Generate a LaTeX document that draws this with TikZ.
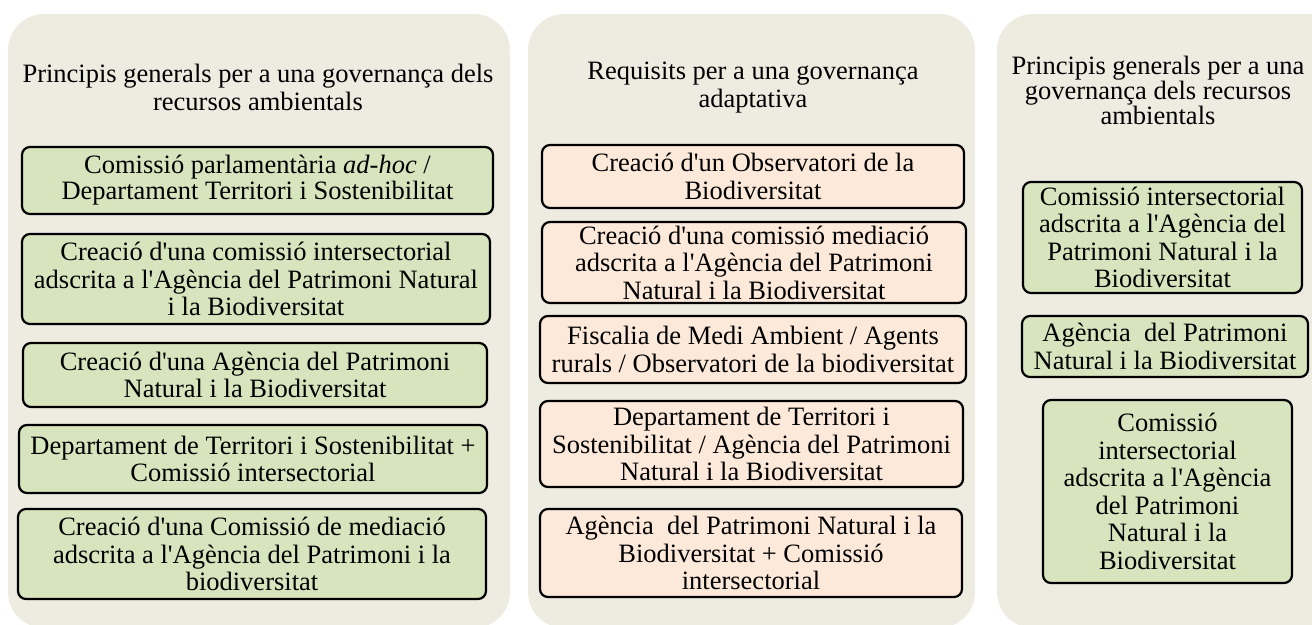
\documentclass[tikz,border=0pt]{standalone}
\usepackage{fontspec}
\setmainfont{Liberation Serif}[Ligatures=TeXOff]
\usepackage{xcolor}
\usetikzlibrary{positioning}
\definecolor{panelgray}{HTML}{EEECE1}
\definecolor{boxgreen}{HTML}{D7E4BD}
\definecolor{boxpeach}{HTML}{FDE9D9}

\begin{document}
\begin{tikzpicture}[
    x=1pt, y=-1pt,
    panel/.style={fill=panelgray, rounded corners=36pt},
    title/.style={anchor=north, align=center, inner sep=0pt, font=\fontsize{26.5}{27.5}\selectfont},
    greenbox/.style={draw=black, line width=2.2pt, rounded corners=8pt, fill=boxgreen, align=center, inner sep=0pt, font=\fontsize{26.5}{27.5}\selectfont},
    peachbox/.style={greenbox, fill=boxpeach},
]

\useasboundingbox (0, 0) rectangle (1312, 624);
\clip (0, 0) rectangle (1312, 624);

% Panels
\fill[panel] (8, 14) rectangle (510, 628);
\fill[panel] (528, 14) rectangle (975, 628);
\fill[panel] (997, 14) rectangle (1350, 628);

% Left panel
\node[title] (t1) at (258, 64) {Principis generals per a una governança dels\\recursos ambientals};
\node[greenbox, minimum width=471, minimum height=67, font=\fontsize{26.5}{26}\selectfont] (g11) at (257.5, 180.5) {Comissió parlamentària \textit{ad-hoc} /\\Departament Territori i Sostenibilitat};
\node[greenbox, minimum width=468, minimum height=90] (g12) at (256, 279) {Creació d'una comissió intersectorial\\adscrita a l'Agència del Patrimoni Natural\\i la Biodiversitat};
\node[greenbox, minimum width=464, minimum height=64] (g13) at (255, 375) {Creació d'una Agència del Patrimoni\\Natural i la Biodiversitat};
\node[greenbox, minimum width=468, minimum height=68] (g14) at (253, 459) {Departament de Territori i Sostenibilitat +\\Comissió intersectorial};
\node[greenbox, minimum width=468, minimum height=90] (g15) at (252, 554) {Creació d'una Comissió de mediació\\adscrita a l'Agència del Patrimoni i la\\biodiversitat};

% Middle panel
\node[title] (t2) at (753, 62) {Requisits per a una governança\\adaptativa};
\node[peachbox, minimum width=422, minimum height=63] (p21) at (753, 176.5) {Creació d'un Observatori de la\\Biodiversitat};
\node[peachbox, minimum width=424, minimum height=81] (p22) at (754, 262.5) {Creació d'una comissió mediació\\adscrita a l'Agència del Patrimoni\\Natural i la Biodiversitat};
\node[peachbox, minimum width=426, minimum height=67] (p23) at (753, 349.5) {Fiscalia de Medi Ambient / Agents\\rurals / Observatori de la biodiversitat};
\node[peachbox, minimum width=423, minimum height=86] (p24) at (751.5, 444) {Departament de Territori i\\Sostenibilitat / Agència del Patrimoni\\Natural i la Biodiversitat};
\node[peachbox, minimum width=422, minimum height=88] (p25) at (751, 553) {Agència~~del Patrimoni Natural i la\\Biodiversitat + Comissió\\intersectorial};

% Right panel
\node[title, font=\fontsize{26.5}{24}\selectfont] (t3) at (1158, 56) {Principis generals per a una\\governança dels recursos\\ambientals};
\node[greenbox, minimum width=279, minimum height=111] (g31) at (1162.5, 237.5) {Comissió intersectorial\\adscrita a l'Agència del\\Patrimoni Natural i la\\Biodiversitat};
\node[greenbox, minimum width=286, minimum height=61] (g32) at (1165, 346.5) {Agència~~del Patrimoni\\Natural i la Biodiversitat};
\node[greenbox, minimum width=249, minimum height=183] (g33) at (1167.5, 491.5) {Comissió\\intersectorial\\adscrita a l'Agència\\del Patrimoni\\Natural i la\\Biodiversitat};

\end{tikzpicture}
\end{document}
